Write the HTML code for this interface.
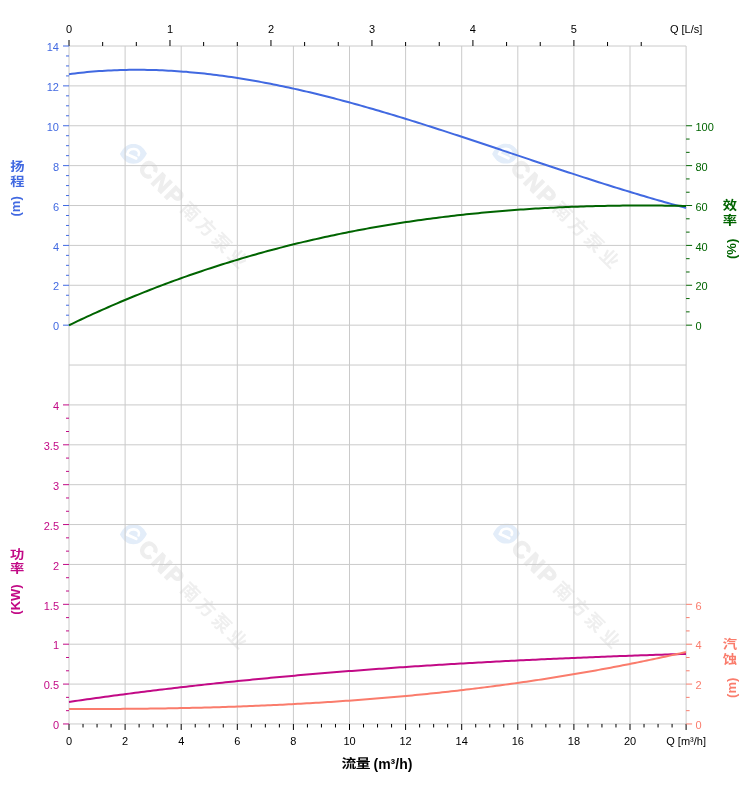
<!DOCTYPE html>
<html><head><meta charset="utf-8"><title>chart</title>
<style>
html,body{margin:0;padding:0;background:#fff;}
#wrap{position:relative;width:752px;height:797px;overflow:hidden;background:#fff;}
#wrap svg{position:absolute;left:0;top:0;}
</style></head><body><div id="wrap">
<svg width="752" height="797" viewBox="0 0 752 797"><g transform="translate(133.4,153.8)"><path d="M-13.5,0.3 C-9.5,-7.5 -5.5,-9.9 0,-9.9 C5.5,-9.9 9.5,-7.5 13.5,-0.2 C9.5,7.5 5.5,10 0,10 C-5.5,10 -9.5,7.5 -13.5,0.3Z" fill="#e3edf9"/><path d="M-6,0.3 C-5.5,-4 -2,-5 0.8,-4.8 C4.8,-4.4 6.6,-1.5 5.2,1.3" stroke="#fff" stroke-width="2.6" fill="none" stroke-linecap="round"/><path d="M-6.5,0.4 L2.8,4.6" stroke="#fff" stroke-width="2.8" fill="none" stroke-linecap="round"/><g transform="rotate(45)"><text x="13.5" y="0.5" dominant-baseline="central" font-family="Liberation Sans, sans-serif" font-weight="bold" font-size="23" letter-spacing="2.2" fill="#eeeeee" stroke="#eeeeee" stroke-width="1.2">CNP</text><text x="72" y="0.6" dominant-baseline="central" font-family="Liberation Sans, Noto Sans CJK SC, sans-serif" font-weight="bold" font-size="18.5" letter-spacing="3.6" fill="#efefef">南方泵业</text></g></g><g transform="translate(505.6,153.6)"><path d="M-13.5,0.3 C-9.5,-7.5 -5.5,-9.9 0,-9.9 C5.5,-9.9 9.5,-7.5 13.5,-0.2 C9.5,7.5 5.5,10 0,10 C-5.5,10 -9.5,7.5 -13.5,0.3Z" fill="#e3edf9"/><path d="M-6,0.3 C-5.5,-4 -2,-5 0.8,-4.8 C4.8,-4.4 6.6,-1.5 5.2,1.3" stroke="#fff" stroke-width="2.6" fill="none" stroke-linecap="round"/><path d="M-6.5,0.4 L2.8,4.6" stroke="#fff" stroke-width="2.8" fill="none" stroke-linecap="round"/><g transform="rotate(45)"><text x="13.5" y="0.5" dominant-baseline="central" font-family="Liberation Sans, sans-serif" font-weight="bold" font-size="23" letter-spacing="2.2" fill="#eeeeee" stroke="#eeeeee" stroke-width="1.2">CNP</text><text x="72" y="0.6" dominant-baseline="central" font-family="Liberation Sans, Noto Sans CJK SC, sans-serif" font-weight="bold" font-size="18.5" letter-spacing="3.6" fill="#efefef">南方泵业</text></g></g><g transform="translate(133.4,534.2)"><path d="M-13.5,0.3 C-9.5,-7.5 -5.5,-9.9 0,-9.9 C5.5,-9.9 9.5,-7.5 13.5,-0.2 C9.5,7.5 5.5,10 0,10 C-5.5,10 -9.5,7.5 -13.5,0.3Z" fill="#e3edf9"/><path d="M-6,0.3 C-5.5,-4 -2,-5 0.8,-4.8 C4.8,-4.4 6.6,-1.5 5.2,1.3" stroke="#fff" stroke-width="2.6" fill="none" stroke-linecap="round"/><path d="M-6.5,0.4 L2.8,4.6" stroke="#fff" stroke-width="2.8" fill="none" stroke-linecap="round"/><g transform="rotate(45)"><text x="13.5" y="0.5" dominant-baseline="central" font-family="Liberation Sans, sans-serif" font-weight="bold" font-size="23" letter-spacing="2.2" fill="#eeeeee" stroke="#eeeeee" stroke-width="1.2">CNP</text><text x="72" y="0.6" dominant-baseline="central" font-family="Liberation Sans, Noto Sans CJK SC, sans-serif" font-weight="bold" font-size="18.5" letter-spacing="3.6" fill="#efefef">南方泵业</text></g></g><g transform="translate(506.4,533.6)"><path d="M-13.5,0.3 C-9.5,-7.5 -5.5,-9.9 0,-9.9 C5.5,-9.9 9.5,-7.5 13.5,-0.2 C9.5,7.5 5.5,10 0,10 C-5.5,10 -9.5,7.5 -13.5,0.3Z" fill="#e3edf9"/><path d="M-6,0.3 C-5.5,-4 -2,-5 0.8,-4.8 C4.8,-4.4 6.6,-1.5 5.2,1.3" stroke="#fff" stroke-width="2.6" fill="none" stroke-linecap="round"/><path d="M-6.5,0.4 L2.8,4.6" stroke="#fff" stroke-width="2.8" fill="none" stroke-linecap="round"/><g transform="rotate(45)"><text x="13.5" y="0.5" dominant-baseline="central" font-family="Liberation Sans, sans-serif" font-weight="bold" font-size="23" letter-spacing="2.2" fill="#eeeeee" stroke="#eeeeee" stroke-width="1.2">CNP</text><text x="72" y="0.6" dominant-baseline="central" font-family="Liberation Sans, Noto Sans CJK SC, sans-serif" font-weight="bold" font-size="18.5" letter-spacing="3.6" fill="#efefef">南方泵业</text></g></g>
<path d="M69,46H686.1M69,85.88H686.1M69,125.76H686.1M69,165.64H686.1M69,205.52H686.1M69,245.4H686.1M69,285.28H686.1M69,325.16H686.1M69,365.04H686.1M69,404.92H686.1M69,444.8H686.1M69,484.68H686.1M69,524.56H686.1M69,564.44H686.1M69,604.32H686.1M69,644.2H686.1M69,684.08H686.1M69,723.96H686.1M69,46V723.96M125.1,46V723.96M181.2,46V723.96M237.3,46V723.96M293.4,46V723.96M349.5,46V723.96M405.6,46V723.96M461.7,46V723.96M517.8,46V723.96M573.9,46V723.96M630,46V723.96M686.1,46V723.96" stroke="#cacaca" stroke-width="1" fill="none"/>
<path d="M69,74.17 72.01,73.78 75.02,73.41 78.03,73.06 81.04,72.72 84.05,72.41 87.06,72.12 90.07,71.84 93.08,71.58 96.09,71.34 99.1,71.12 102.11,70.91 105.12,70.73 108.13,70.56 111.14,70.41 114.15,70.27 117.16,70.15 120.17,70.05 123.18,69.97 126.19,69.9 129.2,69.85 132.2,69.82 135.21,69.8 138.22,69.8 141.23,69.81 144.24,69.84 147.25,69.89 150.26,69.95 153.27,70.03 156.28,70.12 159.29,70.23 162.3,70.35 165.31,70.49 168.32,70.65 171.33,70.81 174.34,71 177.35,71.2 180.36,71.41 183.37,71.63 186.38,71.87 189.39,72.13 192.4,72.4 195.41,72.68 198.42,72.98 201.43,73.29 204.44,73.61 207.45,73.94 210.46,74.29 213.47,74.66 216.48,75.03 219.49,75.42 222.5,75.82 225.51,76.23 228.52,76.66 231.53,77.1 234.54,77.55 237.55,78.01 240.56,78.48 243.57,78.97 246.58,79.46 249.59,79.97 252.6,80.49 255.6,81.02 258.61,81.56 261.62,82.12 264.63,82.68 267.64,83.25 270.65,83.84 273.66,84.43 276.67,85.04 279.68,85.65 282.69,86.28 285.7,86.92 288.71,87.56 291.72,88.22 294.73,88.88 297.74,89.55 300.75,90.24 303.76,90.93 306.77,91.63 309.78,92.34 312.79,93.06 315.8,93.79 318.81,94.52 321.82,95.27 324.83,96.02 327.84,96.78 330.85,97.55 333.86,98.33 336.87,99.11 339.88,99.9 342.89,100.7 345.9,101.51 348.91,102.32 351.92,103.14 354.93,103.97 357.94,104.8 360.95,105.65 363.96,106.49 366.97,107.35 369.98,108.21 372.99,109.07 376,109.95 379,110.83 382.01,111.71 385.02,112.6 388.03,113.5 391.04,114.4 394.05,115.3 397.06,116.21 400.07,117.13 403.08,118.05 406.09,118.98 409.1,119.91 412.11,120.84 415.12,121.78 418.13,122.72 421.14,123.67 424.15,124.62 427.16,125.58 430.17,126.54 433.18,127.5 436.19,128.47 439.2,129.44 442.21,130.41 445.22,131.39 448.23,132.36 451.24,133.35 454.25,134.33 457.26,135.32 460.27,136.31 463.28,137.3 466.29,138.29 469.3,139.29 472.31,140.28 475.32,141.28 478.33,142.28 481.34,143.29 484.35,144.29 487.36,145.29 490.37,146.3 493.38,147.31 496.39,148.32 499.4,149.32 502.4,150.33 505.41,151.34 508.42,152.35 511.43,153.36 514.44,154.38 517.45,155.39 520.46,156.4 523.47,157.41 526.48,158.42 529.49,159.42 532.5,160.43 535.51,161.44 538.52,162.45 541.53,163.45 544.54,164.46 547.55,165.46 550.56,166.46 553.57,167.46 556.58,168.46 559.59,169.46 562.6,170.45 565.61,171.44 568.62,172.43 571.63,173.42 574.64,174.41 577.65,175.39 580.66,176.37 583.67,177.35 586.68,178.32 589.69,179.29 592.7,180.26 595.71,181.22 598.72,182.18 601.73,183.14 604.74,184.09 607.75,185.04 610.76,185.99 613.77,186.93 616.78,187.87 619.79,188.8 622.8,189.73 625.8,190.65 628.81,191.57 631.82,192.48 634.83,193.39 637.84,194.29 640.85,195.19 643.86,196.08 646.87,196.97 649.88,197.85 652.89,198.73 655.9,199.6 658.91,200.46 661.92,201.32 664.93,202.17 667.94,203.01 670.95,203.85 673.96,204.68 676.97,205.5 679.98,206.32 682.99,207.13 686,207.93" stroke="#4169e1" stroke-width="2" fill="none" stroke-linejoin="round"/>
<path d="M69,325.24 72.01,323.79 75.02,322.36 78.03,320.93 81.04,319.51 84.05,318.1 87.06,316.71 90.07,315.32 93.08,313.95 96.09,312.58 99.1,311.23 102.11,309.88 105.12,308.55 108.13,307.23 111.14,305.91 114.15,304.61 117.16,303.32 120.17,302.04 123.18,300.77 126.19,299.5 129.2,298.25 132.2,297.01 135.21,295.78 138.22,294.56 141.23,293.35 144.24,292.15 147.25,290.96 150.26,289.78 153.27,288.6 156.28,287.44 159.29,286.29 162.3,285.15 165.31,284.02 168.32,282.89 171.33,281.78 174.34,280.68 177.35,279.58 180.36,278.5 183.37,277.43 186.38,276.36 189.39,275.3 192.4,274.26 195.41,273.22 198.42,272.19 201.43,271.18 204.44,270.17 207.45,269.17 210.46,268.18 213.47,267.2 216.48,266.23 219.49,265.26 222.5,264.31 225.51,263.37 228.52,262.43 231.53,261.5 234.54,260.59 237.55,259.68 240.56,258.78 243.57,257.89 246.58,257.01 249.59,256.13 252.6,255.27 255.6,254.42 258.61,253.57 261.62,252.73 264.63,251.9 267.64,251.08 270.65,250.27 273.66,249.47 276.67,248.67 279.68,247.88 282.69,247.11 285.7,246.34 288.71,245.58 291.72,244.82 294.73,244.08 297.74,243.34 300.75,242.62 303.76,241.9 306.77,241.18 309.78,240.48 312.79,239.79 315.8,239.1 318.81,238.42 321.82,237.75 324.83,237.09 327.84,236.43 330.85,235.78 333.86,235.15 336.87,234.51 339.88,233.89 342.89,233.28 345.9,232.67 348.91,232.07 351.92,231.48 354.93,230.89 357.94,230.31 360.95,229.74 363.96,229.18 366.97,228.63 369.98,228.08 372.99,227.54 376,227.01 379,226.49 382.01,225.97 385.02,225.46 388.03,224.96 391.04,224.46 394.05,223.97 397.06,223.49 400.07,223.02 403.08,222.55 406.09,222.1 409.1,221.64 412.11,221.2 415.12,220.76 418.13,220.33 421.14,219.91 424.15,219.49 427.16,219.08 430.17,218.67 433.18,218.28 436.19,217.89 439.2,217.51 442.21,217.13 445.22,216.76 448.23,216.4 451.24,216.04 454.25,215.69 457.26,215.35 460.27,215.01 463.28,214.68 466.29,214.36 469.3,214.04 472.31,213.73 475.32,213.42 478.33,213.13 481.34,212.83 484.35,212.55 487.36,212.27 490.37,212 493.38,211.73 496.39,211.47 499.4,211.21 502.4,210.97 505.41,210.72 508.42,210.49 511.43,210.26 514.44,210.03 517.45,209.81 520.46,209.6 523.47,209.39 526.48,209.19 529.49,209 532.5,208.81 535.51,208.62 538.52,208.44 541.53,208.27 544.54,208.1 547.55,207.94 550.56,207.79 553.57,207.63 556.58,207.49 559.59,207.35 562.6,207.22 565.61,207.09 568.62,206.96 571.63,206.85 574.64,206.73 577.65,206.63 580.66,206.52 583.67,206.43 586.68,206.33 589.69,206.25 592.7,206.16 595.71,206.09 598.72,206.02 601.73,205.95 604.74,205.89 607.75,205.83 610.76,205.78 613.77,205.73 616.78,205.69 619.79,205.65 622.8,205.62 625.8,205.59 628.81,205.57 631.82,205.55 634.83,205.53 637.84,205.52 640.85,205.52 643.86,205.52 646.87,205.52 649.88,205.53 652.89,205.54 655.9,205.56 658.91,205.58 661.92,205.61 664.93,205.64 667.94,205.67 670.95,205.71 673.96,205.76 676.97,205.8 679.98,205.86 682.99,205.91 686,205.97" stroke="#006400" stroke-width="2" fill="none" stroke-linejoin="round"/>
<path d="M69,701.94 72.01,701.5 75.02,701.06 78.03,700.63 81.04,700.2 84.05,699.77 87.06,699.34 90.07,698.91 93.08,698.49 96.09,698.07 99.1,697.66 102.11,697.24 105.12,696.83 108.13,696.42 111.14,696.02 114.15,695.61 117.16,695.21 120.17,694.81 123.18,694.41 126.19,694.02 129.2,693.63 132.2,693.24 135.21,692.85 138.22,692.47 141.23,692.09 144.24,691.71 147.25,691.33 150.26,690.96 153.27,690.59 156.28,690.22 159.29,689.85 162.3,689.48 165.31,689.12 168.32,688.76 171.33,688.4 174.34,688.05 177.35,687.69 180.36,687.34 183.37,686.99 186.38,686.65 189.39,686.3 192.4,685.96 195.41,685.62 198.42,685.29 201.43,684.95 204.44,684.62 207.45,684.29 210.46,683.96 213.47,683.63 216.48,683.31 219.49,682.99 222.5,682.67 225.51,682.35 228.52,682.04 231.53,681.73 234.54,681.41 237.55,681.11 240.56,680.8 243.57,680.5 246.58,680.19 249.59,679.89 252.6,679.6 255.6,679.3 258.61,679.01 261.62,678.71 264.63,678.42 267.64,678.14 270.65,677.85 273.66,677.57 276.67,677.29 279.68,677.01 282.69,676.73 285.7,676.45 288.71,676.18 291.72,675.91 294.73,675.64 297.74,675.37 300.75,675.11 303.76,674.84 306.77,674.58 309.78,674.32 312.79,674.06 315.8,673.81 318.81,673.55 321.82,673.3 324.83,673.05 327.84,672.8 330.85,672.55 333.86,672.31 336.87,672.07 339.88,671.83 342.89,671.59 345.9,671.35 348.91,671.11 351.92,670.88 354.93,670.65 357.94,670.42 360.95,670.19 363.96,669.96 366.97,669.74 369.98,669.51 372.99,669.29 376,669.07 379,668.85 382.01,668.64 385.02,668.42 388.03,668.21 391.04,668 394.05,667.79 397.06,667.58 400.07,667.37 403.08,667.17 406.09,666.97 409.1,666.76 412.11,666.56 415.12,666.37 418.13,666.17 421.14,665.97 424.15,665.78 427.16,665.59 430.17,665.4 433.18,665.21 436.19,665.02 439.2,664.83 442.21,664.65 445.22,664.47 448.23,664.29 451.24,664.11 454.25,663.93 457.26,663.75 460.27,663.58 463.28,663.4 466.29,663.23 469.3,663.06 472.31,662.89 475.32,662.72 478.33,662.55 481.34,662.39 484.35,662.22 487.36,662.06 490.37,661.9 493.38,661.74 496.39,661.58 499.4,661.42 502.4,661.27 505.41,661.11 508.42,660.96 511.43,660.81 514.44,660.66 517.45,660.51 520.46,660.36 523.47,660.21 526.48,660.07 529.49,659.92 532.5,659.78 535.51,659.64 538.52,659.5 541.53,659.36 544.54,659.22 547.55,659.08 550.56,658.95 553.57,658.81 556.58,658.68 559.59,658.54 562.6,658.41 565.61,658.28 568.62,658.15 571.63,658.03 574.64,657.9 577.65,657.77 580.66,657.65 583.67,657.53 586.68,657.4 589.69,657.28 592.7,657.16 595.71,657.04 598.72,656.92 601.73,656.81 604.74,656.69 607.75,656.58 610.76,656.46 613.77,656.35 616.78,656.24 619.79,656.12 622.8,656.01 625.8,655.91 628.81,655.8 631.82,655.69 634.83,655.58 637.84,655.48 640.85,655.37 643.86,655.27 646.87,655.17 649.88,655.06 652.89,654.96 655.9,654.86 658.91,654.76 661.92,654.67 664.93,654.57 667.94,654.47 670.95,654.37 673.96,654.28 676.97,654.18 679.98,654.09 682.99,654 686,653.91" stroke="#c20a86" stroke-width="2" fill="none" stroke-linejoin="round"/>
<path d="M69,708.91 72.01,708.92 75.02,708.93 78.03,708.94 81.04,708.94 84.05,708.95 87.06,708.95 90.07,708.96 93.08,708.96 96.09,708.95 99.1,708.95 102.11,708.95 105.12,708.94 108.13,708.93 111.14,708.92 114.15,708.91 117.16,708.89 120.17,708.88 123.18,708.86 126.19,708.84 129.2,708.81 132.2,708.79 135.21,708.76 138.22,708.74 141.23,708.7 144.24,708.67 147.25,708.64 150.26,708.6 153.27,708.56 156.28,708.52 159.29,708.48 162.3,708.43 165.31,708.38 168.32,708.33 171.33,708.28 174.34,708.23 177.35,708.17 180.36,708.11 183.37,708.05 186.38,707.99 189.39,707.92 192.4,707.85 195.41,707.78 198.42,707.71 201.43,707.64 204.44,707.56 207.45,707.48 210.46,707.4 213.47,707.31 216.48,707.22 219.49,707.13 222.5,707.04 225.51,706.95 228.52,706.85 231.53,706.75 234.54,706.65 237.55,706.54 240.56,706.43 243.57,706.32 246.58,706.21 249.59,706.09 252.6,705.97 255.6,705.85 258.61,705.73 261.62,705.6 264.63,705.47 267.64,705.34 270.65,705.2 273.66,705.07 276.67,704.93 279.68,704.78 282.69,704.64 285.7,704.49 288.71,704.33 291.72,704.18 294.73,704.02 297.74,703.86 300.75,703.69 303.76,703.53 306.77,703.36 309.78,703.18 312.79,703.01 315.8,702.83 318.81,702.65 321.82,702.46 324.83,702.27 327.84,702.08 330.85,701.89 333.86,701.69 336.87,701.49 339.88,701.28 342.89,701.08 345.9,700.87 348.91,700.65 351.92,700.43 354.93,700.21 357.94,699.99 360.95,699.76 363.96,699.53 366.97,699.3 369.98,699.06 372.99,698.82 376,698.58 379,698.33 382.01,698.08 385.02,697.82 388.03,697.57 391.04,697.31 394.05,697.04 397.06,696.77 400.07,696.5 403.08,696.23 406.09,695.95 409.1,695.66 412.11,695.38 415.12,695.09 418.13,694.79 421.14,694.5 424.15,694.2 427.16,693.89 430.17,693.58 433.18,693.27 436.19,692.96 439.2,692.64 442.21,692.31 445.22,691.99 448.23,691.66 451.24,691.32 454.25,690.98 457.26,690.64 460.27,690.29 463.28,689.94 466.29,689.59 469.3,689.23 472.31,688.87 475.32,688.5 478.33,688.13 481.34,687.76 484.35,687.38 487.36,687 490.37,686.62 493.38,686.22 496.39,685.83 499.4,685.43 502.4,685.03 505.41,684.62 508.42,684.21 511.43,683.8 514.44,683.38 517.45,682.96 520.46,682.53 523.47,682.1 526.48,681.66 529.49,681.22 532.5,680.77 535.51,680.33 538.52,679.87 541.53,679.41 544.54,678.95 547.55,678.49 550.56,678.02 553.57,677.54 556.58,677.06 559.59,676.58 562.6,676.09 565.61,675.59 568.62,675.1 571.63,674.59 574.64,674.09 577.65,673.58 580.66,673.06 583.67,672.54 586.68,672.02 589.69,671.49 592.7,670.95 595.71,670.41 598.72,669.87 601.73,669.32 604.74,668.77 607.75,668.21 610.76,667.65 613.77,667.08 616.78,666.51 619.79,665.93 622.8,665.35 625.8,664.76 628.81,664.17 631.82,663.57 634.83,662.97 637.84,662.37 640.85,661.76 643.86,661.14 646.87,660.52 649.88,659.89 652.89,659.26 655.9,658.63 658.91,657.99 661.92,657.34 664.93,656.69 667.94,656.03 670.95,655.37 673.96,654.71 676.97,654.03 679.98,653.36 682.99,652.68 686,651.99" stroke="#fa7c6c" stroke-width="2" fill="none" stroke-linejoin="round"/>
<path d="M69,40V46M102.66,42V46M136.32,42V46M169.98,40V46M203.64,42V46M237.3,42V46M270.96,40V46M304.62,42V46M338.28,42V46M371.94,40V46M405.6,42V46M439.26,42V46M472.92,40V46M506.58,42V46M540.24,42V46M573.9,40V46M607.56,42V46M641.22,42V46" stroke="#000" stroke-width="1" fill="none"/>
<path d="M69,723.96v6M83.03,723.96v3.5M97.05,723.96v3.5M111.08,723.96v3.5M125.1,723.96v6M139.12,723.96v3.5M153.15,723.96v3.5M167.18,723.96v3.5M181.2,723.96v6M195.23,723.96v3.5M209.25,723.96v3.5M223.28,723.96v3.5M237.3,723.96v6M251.33,723.96v3.5M265.35,723.96v3.5M279.38,723.96v3.5M293.4,723.96v6M307.43,723.96v3.5M321.45,723.96v3.5M335.48,723.96v3.5M349.5,723.96v6M363.53,723.96v3.5M377.55,723.96v3.5M391.57,723.96v3.5M405.6,723.96v6M419.62,723.96v3.5M433.65,723.96v3.5M447.68,723.96v3.5M461.7,723.96v6M475.73,723.96v3.5M489.75,723.96v3.5M503.78,723.96v3.5M517.8,723.96v6M531.83,723.96v3.5M545.85,723.96v3.5M559.88,723.96v3.5M573.9,723.96v6M587.93,723.96v3.5M601.95,723.96v3.5M615.98,723.96v3.5M630,723.96v6M644.02,723.96v3.5M658.05,723.96v3.5M672.08,723.96v3.5M686.1,723.96v6" stroke="#000" stroke-width="1" fill="none"/>
<path d="M63,325.16H69M66,315.19H69M66,305.22H69M66,295.25H69M63,285.28H69M66,275.31H69M66,265.34H69M66,255.37H69M63,245.4H69M66,235.43H69M66,225.46H69M66,215.49H69M63,205.52H69M66,195.55H69M66,185.58H69M66,175.61H69M63,165.64H69M66,155.67H69M66,145.7H69M66,135.73H69M63,125.76H69M66,115.79H69M66,105.82H69M66,95.85H69M63,85.88H69M66,75.91H69M66,65.94H69M66,55.97H69M63,46H69" stroke="#4169e1" stroke-width="1" fill="none"/>
<path d="M63,723.96H69M66,710.67H69M66,697.37H69M63,684.08H69M66,670.79H69M66,657.49H69M63,644.2H69M66,630.91H69M66,617.61H69M63,604.32H69M66,591.03H69M66,577.73H69M63,564.44H69M66,551.15H69M66,537.85H69M63,524.56H69M66,511.27H69M66,497.97H69M63,484.68H69M66,471.39H69M66,458.09H69M63,444.8H69M66,431.51H69M66,418.21H69M63,404.92H69" stroke="#c20a86" stroke-width="1" fill="none"/>
<path d="M686.1,325.16h6M686.1,311.87h3.5M686.1,298.57h3.5M686.1,285.28h6M686.1,271.99h3.5M686.1,258.69h3.5M686.1,245.4h6M686.1,232.11h3.5M686.1,218.81h3.5M686.1,205.52h6M686.1,192.23h3.5M686.1,178.93h3.5M686.1,165.64h6M686.1,152.35h3.5M686.1,139.05h3.5M686.1,125.76h6" stroke="#006400" stroke-width="1" fill="none"/>
<path d="M686.1,723.96h6M686.1,710.67h3.5M686.1,697.37h3.5M686.1,684.08h6M686.1,670.79h3.5M686.1,657.49h3.5M686.1,644.2h6M686.1,630.91h3.5M686.1,617.61h3.5M686.1,604.32h6" stroke="#fa7c6c" stroke-width="1" fill="none"/>
<g font-family="Liberation Sans, Arial, sans-serif" font-size="11"><text x="69" y="33" text-anchor="middle" fill="#000">0</text><text x="169.98" y="33" text-anchor="middle" fill="#000">1</text><text x="270.96" y="33" text-anchor="middle" fill="#000">2</text><text x="371.94" y="33" text-anchor="middle" fill="#000">3</text><text x="472.92" y="33" text-anchor="middle" fill="#000">4</text><text x="573.9" y="33" text-anchor="middle" fill="#000">5</text><text x="686.1" y="33" text-anchor="middle" fill="#000">Q [L/s]</text><text x="69" y="745" text-anchor="middle" fill="#000">0</text><text x="125.1" y="745" text-anchor="middle" fill="#000">2</text><text x="181.2" y="745" text-anchor="middle" fill="#000">4</text><text x="237.3" y="745" text-anchor="middle" fill="#000">6</text><text x="293.4" y="745" text-anchor="middle" fill="#000">8</text><text x="349.5" y="745" text-anchor="middle" fill="#000">10</text><text x="405.6" y="745" text-anchor="middle" fill="#000">12</text><text x="461.7" y="745" text-anchor="middle" fill="#000">14</text><text x="517.8" y="745" text-anchor="middle" fill="#000">16</text><text x="573.9" y="745" text-anchor="middle" fill="#000">18</text><text x="630" y="745" text-anchor="middle" fill="#000">20</text><text x="686.1" y="745" text-anchor="middle" fill="#000">Q [m³/h]</text><text x="59" y="330.36" text-anchor="end" fill="#4169e1">0</text><text x="59" y="290.48" text-anchor="end" fill="#4169e1">2</text><text x="59" y="250.6" text-anchor="end" fill="#4169e1">4</text><text x="59" y="210.72" text-anchor="end" fill="#4169e1">6</text><text x="59" y="170.84" text-anchor="end" fill="#4169e1">8</text><text x="59" y="130.96" text-anchor="end" fill="#4169e1">10</text><text x="59" y="91.08" text-anchor="end" fill="#4169e1">12</text><text x="59" y="51.2" text-anchor="end" fill="#4169e1">14</text><text x="59" y="729.16" text-anchor="end" fill="#c20a86">0</text><text x="59" y="689.28" text-anchor="end" fill="#c20a86">0.5</text><text x="59" y="649.4" text-anchor="end" fill="#c20a86">1</text><text x="59" y="609.52" text-anchor="end" fill="#c20a86">1.5</text><text x="59" y="569.64" text-anchor="end" fill="#c20a86">2</text><text x="59" y="529.76" text-anchor="end" fill="#c20a86">2.5</text><text x="59" y="489.88" text-anchor="end" fill="#c20a86">3</text><text x="59" y="450" text-anchor="end" fill="#c20a86">3.5</text><text x="59" y="410.12" text-anchor="end" fill="#c20a86">4</text><text x="695.5" y="330.36" fill="#006400">0</text><text x="695.5" y="290.48" fill="#006400">20</text><text x="695.5" y="250.6" fill="#006400">40</text><text x="695.5" y="210.72" fill="#006400">60</text><text x="695.5" y="170.84" fill="#006400">80</text><text x="695.5" y="130.96" fill="#006400">100</text><text x="695.5" y="729.16" fill="#fa7c6c">0</text><text x="695.5" y="689.28" fill="#fa7c6c">2</text><text x="695.5" y="649.4" fill="#fa7c6c">4</text><text x="695.5" y="609.52" fill="#fa7c6c">6</text></g>
<text transform="translate(17.5,166.4) scale(1.1,0.93)" text-anchor="middle" dominant-baseline="central" font-family="Liberation Sans, Noto Sans CJK SC, sans-serif" font-weight="bold" font-size="13" fill="#4169e1">扬</text><text transform="translate(17.5,181.5) scale(1.1,0.93)" text-anchor="middle" dominant-baseline="central" font-family="Liberation Sans, Noto Sans CJK SC, sans-serif" font-weight="bold" font-size="13" fill="#4169e1">程</text><text transform="translate(19.5,206.4) rotate(-90)" text-anchor="middle" font-family="Liberation Sans, Arial, sans-serif" font-weight="bold" font-size="13" fill="#4169e1">(m)</text>
<text transform="translate(17.2,554.5) scale(1.1,0.93)" text-anchor="middle" dominant-baseline="central" font-family="Liberation Sans, Noto Sans CJK SC, sans-serif" font-weight="bold" font-size="13" fill="#c20a86">功</text><text transform="translate(17.2,569.1) scale(1.1,0.93)" text-anchor="middle" dominant-baseline="central" font-family="Liberation Sans, Noto Sans CJK SC, sans-serif" font-weight="bold" font-size="13" fill="#c20a86">率</text><text transform="translate(19.5,599.5) rotate(-90)" text-anchor="middle" font-family="Liberation Sans, Arial, sans-serif" font-weight="bold" font-size="13" fill="#c20a86">(KW)</text>
<text transform="translate(730,205.5) scale(1.1,0.93)" text-anchor="middle" dominant-baseline="central" font-family="Liberation Sans, Noto Sans CJK SC, sans-serif" font-weight="bold" font-size="13" fill="#006400">效</text><text transform="translate(730,220.4) scale(1.1,0.93)" text-anchor="middle" dominant-baseline="central" font-family="Liberation Sans, Noto Sans CJK SC, sans-serif" font-weight="bold" font-size="13" fill="#006400">率</text><text transform="translate(735.6,248.9) rotate(-90)" text-anchor="middle" font-family="Liberation Sans, Arial, sans-serif" font-weight="bold" font-size="13" fill="#006400">(%)</text>
<text transform="translate(730,644.5) scale(1.1,0.93)" text-anchor="middle" dominant-baseline="central" font-family="Liberation Sans, Noto Sans CJK SC, sans-serif" font-weight="bold" font-size="13" fill="#fa7c6c">汽</text><text transform="translate(730,659.7) scale(1.1,0.93)" text-anchor="middle" dominant-baseline="central" font-family="Liberation Sans, Noto Sans CJK SC, sans-serif" font-weight="bold" font-size="13" fill="#fa7c6c">蚀</text><text transform="translate(735.5,687.8) rotate(-90)" text-anchor="middle" font-family="Liberation Sans, Arial, sans-serif" font-weight="bold" font-size="13" fill="#fa7c6c">(m)</text>
<text transform="translate(348.8,763.9) scale(1.06,0.87)" text-anchor="middle" dominant-baseline="central" font-family="Liberation Sans, Noto Sans CJK SC, sans-serif" font-weight="bold" font-size="14" fill="#000">流</text><text transform="translate(363.1,763.9) scale(1.06,0.87)" text-anchor="middle" dominant-baseline="central" font-family="Liberation Sans, Noto Sans CJK SC, sans-serif" font-weight="bold" font-size="14" fill="#000">量</text>
<text x="373.5" y="768.5" font-family="Liberation Sans, sans-serif" font-weight="bold" font-size="14" fill="#000">(m³/h)</text></svg>
</div></body></html>
